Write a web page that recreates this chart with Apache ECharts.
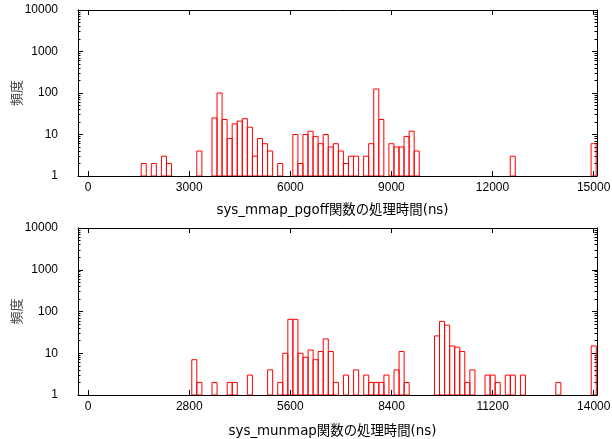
<!DOCTYPE html>
<html>
<head>
<meta charset="utf-8">
<script src="https://cdn.jsdelivr.net/npm/echarts@6/dist/echarts.min.js"></script>
<style>
  html, body { margin: 0; padding: 0; background: #fff; }
  #chart { width: 612px; height: 439px; }
</style>
</head>
<body>
<div id="chart"></div>
<script>
  // 上段: sys_mmap_pgoff (ビン中心 ns / 頻度)
  const mmapTimes = [1650, 1950, 2250, 2400, 3300, 3750, 3900, 4050, 4200, 4350, 4500, 4650, 4800, 4950, 5100, 5250, 5400, 5700,
    6150, 6300, 6450, 6600, 6750, 6900, 7050, 7200, 7350, 7500, 7650, 7800, 7950, 8250, 8400, 8550, 8700,
    9000, 9150, 9300, 9450, 9600, 9750, 12600, 15000]
  const mmapCounts = [2, 2, 3, 2, 4, 25, 100, 23, 8, 18, 21, 24, 15, 3, 8, 6, 4, 2,
    10, 2, 10, 12, 9, 6, 10, 5, 6, 4, 2, 3, 3, 3, 6, 125, 23,
    6, 5, 5, 9, 12, 4, 3, 6]
  const mmapTicks = [0, 3000, 6000, 9000, 12000, 15000]

  // 下段: sys_munmap
  const munmapTimes = [2940, 3080, 3500, 3920, 4060, 4480, 5040, 5320, 5460, 5600, 5740, 5880, 6020, 6160, 6300, 6440, 6580, 6720, 6860,
    7140, 7420, 7700, 7840, 7980, 8120, 8260, 8540, 8680, 8820,
    9660, 9800, 9940, 10080, 10220, 10360, 10500, 10640, 11060, 11200, 11340, 11620, 11760, 12040, 13020, 14000]
  const munmapCounts = [7, 2, 2, 2, 2, 3, 4, 2, 10, 65, 65, 10, 8, 12, 7, 11, 22, 11, 2,
    3, 4, 3, 2, 2, 2, 3, 4, 11, 2,
    26, 58, 47, 15, 14, 11, 2, 4, 3, 3, 2, 3, 3, 3, 2, 15]
  const munmapTicks = [0, 2800, 5600, 8400, 11200, 14000]

  // 補助目盛 (2..9 × 10^n) を log10 の位置で
  const yMinorTicks = []
  for (let d = 0; d < 4; d++) {
    for (let m = 2; m <= 9; m++) yMinorTicks.push(d + Math.log10(m))
  }

  const tickFont = '"Liberation Sans", Arial, sans-serif'
  const nameFont = '"DejaVu Sans", "Noto Sans CJK JP", sans-serif'
  const plain = (v) => String(v)

  const xAxisPair = (grid, min, max, ticks, name, nameGap) => [
    {
      gridIndex: grid, type: 'value', min: min, max: max, position: 'bottom',
      axisLine: { show: true, onZero: false, lineStyle: { color: '#000', width: 1 } },
      axisTick: { inside: true, length: 5, customValues: ticks, lineStyle: { color: '#000' } },
      axisLabel: { customValues: ticks, formatter: plain, margin: 6, fontSize: 12, color: '#000', fontFamily: tickFont },
      splitLine: { show: false },
      name: name, nameLocation: 'middle', nameGap: nameGap, nameMoveOverlap: false,
      nameTextStyle: { fontSize: 13.4, color: '#000', fontFamily: nameFont, padding: [0, 10, 0, 0] }
    },
    {
      gridIndex: grid, type: 'value', min: min, max: max, position: 'top',
      axisLine: { show: true, onZero: false, lineStyle: { color: '#000', width: 1 } },
      axisTick: { inside: true, length: 5, customValues: ticks, lineStyle: { color: '#000' } },
      axisLabel: { show: false },
      splitLine: { show: false }
    }
  ]

  const yAxisSet = (grid) => [
    {
      gridIndex: grid, type: 'log', logBase: 10, min: 1, max: 10000, position: 'left',
      axisLine: { show: true, onZero: false, lineStyle: { color: '#000', width: 1 } },
      axisTick: { inside: true, length: 5, lineStyle: { color: '#000' } },
      axisLabel: { formatter: plain, margin: 20, fontSize: 12, color: '#000', fontFamily: tickFont, padding: [6, 0, 0, 0] },
      splitLine: { show: false },
      name: '頻度', nameLocation: 'middle', nameRotate: 90, nameGap: 55, nameMoveOverlap: false,
      nameTextStyle: { fontSize: 13, color: '#444', fontFamily: '"Noto Sans CJK JP", sans-serif' }
    },
    {
      gridIndex: grid, type: 'value', min: 0, max: 4, position: 'left',
      axisLine: { show: false, onZero: false },
      axisTick: { inside: true, length: 2.5, customValues: yMinorTicks, lineStyle: { color: '#000' } },
      axisLabel: { show: false },
      splitLine: { show: false }
    },
    {
      gridIndex: grid, type: 'log', logBase: 10, min: 1, max: 10000, position: 'right',
      axisLine: { show: true, onZero: false, lineStyle: { color: '#000', width: 1 } },
      axisTick: { inside: true, length: 5, lineStyle: { color: '#000' } },
      axisLabel: { show: false },
      splitLine: { show: false }
    },
    {
      gridIndex: grid, type: 'value', min: 0, max: 4, position: 'right',
      axisLine: { show: false, onZero: false },
      axisTick: { inside: true, length: 2.5, customValues: yMinorTicks, lineStyle: { color: '#000' } },
      axisLabel: { show: false },
      splitLine: { show: false }
    }
  ]

  // gnuplot の boxes 風 (枠だけの箱)
  const boxes = (binWidth) => (params, api) => {
    const x = api.value(0)
    const y = api.value(1)
    const p0 = api.coord([x - binWidth / 2, y])
    const p1 = api.coord([x + binWidth / 2, 1])
    return {
      type: 'rect',
      shape: { x: p0[0], y: p0[1], width: p1[0] - p0[0], height: p1[1] - p0[1] },
      style: { fill: 'none', stroke: '#ff0000', lineWidth: 1 }
    }
  }

  const myChart = echarts.init(document.getElementById('chart'))
  const option = {
    animation: false,
    backgroundColor: '#fff',
    grid: [
      { left: 78, width: 519, top: 10, height: 166, outerBoundsMode: 'none' },
      { left: 78, width: 519, top: 228, height: 167, outerBoundsMode: 'none' }
    ],
    xAxis: [
      ...xAxisPair(0, -300, 15100, mmapTicks, 'sys_mmap_pgoff関数の処理時間(ns)', 28),
      ...xAxisPair(1, -280, 14090, munmapTicks, 'sys_munmap関数の処理時間(ns)', 30)
    ],
    yAxis: [...yAxisSet(0), ...yAxisSet(1)],
    series: [
      {
        type: 'custom', xAxisIndex: 0, yAxisIndex: 0, clip: true,
        renderItem: boxes(150),
        data: mmapTimes.map((t, i) => [t, mmapCounts[i]])
      },
      {
        type: 'custom', xAxisIndex: 2, yAxisIndex: 4, clip: true,
        renderItem: boxes(140),
        data: munmapTimes.map((t, i) => [t, munmapCounts[i]])
      }
    ]
  }
  myChart.setOption(option)
</script>
</body>
</html>
